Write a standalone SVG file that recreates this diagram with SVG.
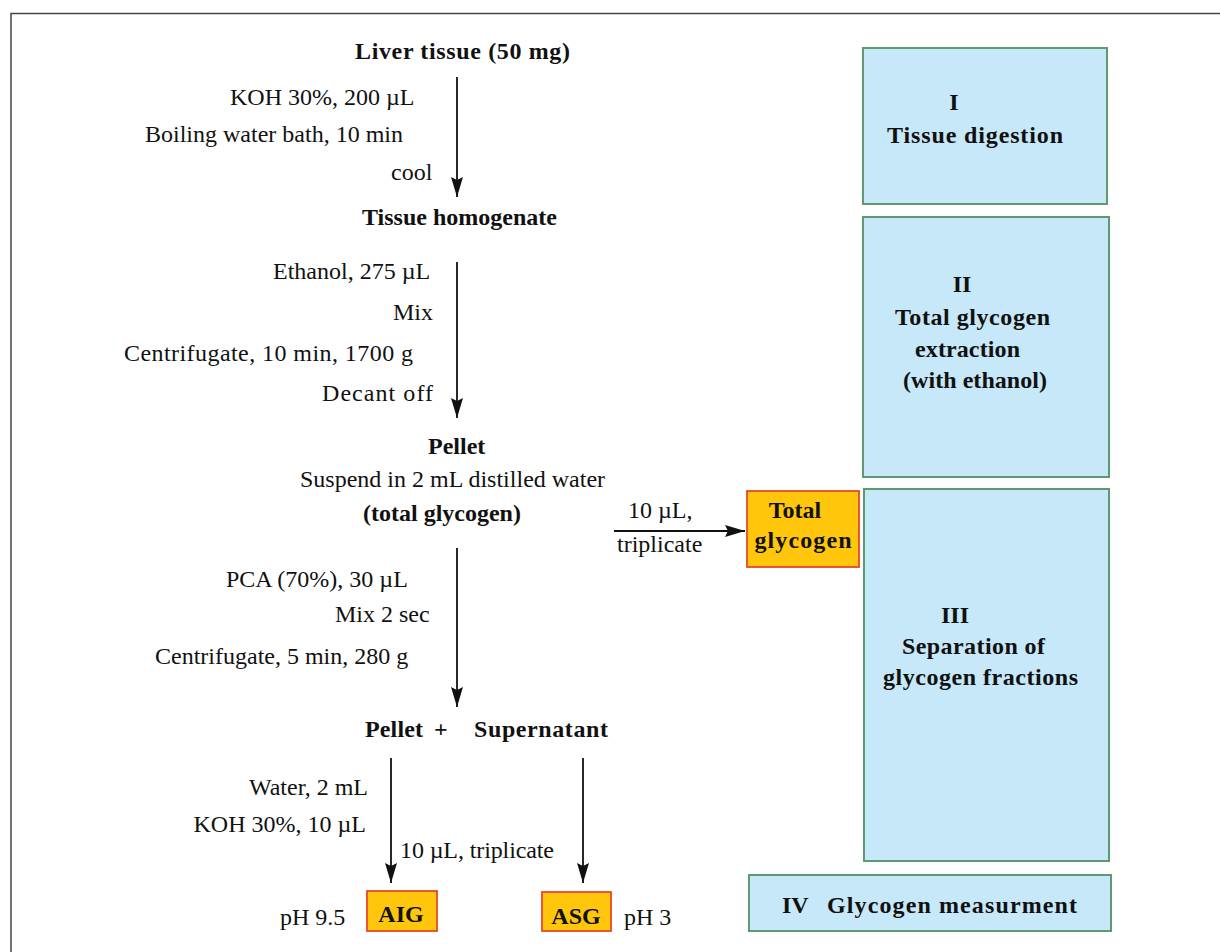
<svg xmlns="http://www.w3.org/2000/svg" width="1220" height="952" viewBox="0 0 1220 952">
<style>
text{font-family:"Liberation Serif","Times New Roman",serif;font-size:24px;fill:#111}
.b{font-weight:bold}
.stage{fill:#c6e8f8;stroke:#5e9a70;stroke-width:2}
.res{fill:#ffc60b;stroke:#e8482a;stroke-width:1.8}
.ln{stroke:#111;stroke-width:1.8;fill:none;marker-end:url(#ah)}
</style>
<defs>
<marker id="ah" markerUnits="userSpaceOnUse" markerWidth="22" markerHeight="14" refX="20" refY="7" orient="auto">
<path d="M0,1 L20,7 L0,13 L3,7 z" fill="#111"/>
</marker>
</defs>
<rect x="0" y="0" width="1220" height="952" fill="#fff"/>
<rect x="11" y="13.5" width="1230" height="960" fill="none" stroke="#444" stroke-width="1.5"/>

<g id="connectors">
<line class="ln" x1="457" y1="77" x2="457" y2="197"/>
<line class="ln" x1="457" y1="262" x2="457" y2="418"/>
<line class="ln" x1="457" y1="548" x2="457" y2="707"/>
<line class="ln" x1="391" y1="758" x2="391" y2="883"/>
<line class="ln" x1="583" y1="758" x2="583" y2="883"/>
<line class="ln" x1="614" y1="531" x2="745" y2="531"/>
</g>

<g id="liver"><text class="b" x="355" y="59" textLength="215">Liver tissue (50 mg)</text></g>
<g id="step1-labels">
<text x="230" y="105">KOH 30%, 200 µL</text>
<text x="145" y="142">Boiling water bath, 10 min</text>
<text x="391" y="180">cool</text>
</g>
<g id="homogenate"><text class="b" x="362" y="225">Tissue homogenate</text></g>
<g id="step2-labels">
<text x="273" y="279">Ethanol, 275 µL</text>
<text x="393" y="320">Mix</text>
<text x="124" y="361" textLength="289">Centrifugate, 10 min, 1700 g</text>
<text x="322" y="401" textLength="111">Decant off</text>
</g>
<g id="pellet1">
<text class="b" x="428" y="454">Pellet</text>
<text x="300" y="487">Suspend in 2 mL distilled water</text>
<text class="b" x="363" y="521">(total glycogen)</text>
</g>
<g id="arrow-label-total">
<text x="628" y="518">10 µL,</text>
<text x="617" y="552">triplicate</text>
</g>
<g id="total-glycogen">
<rect class="res" x="747" y="491" width="112" height="76"/>
<text class="b" x="795" y="518" text-anchor="middle">Total</text>
<text class="b" x="803" y="548" text-anchor="middle" textLength="97">glycogen</text>
</g>
<g id="step3-labels">
<text x="226" y="587">PCA (70%), 30 µL</text>
<text x="335" y="622">Mix 2 sec</text>
<text x="155" y="664">Centrifugate, 5 min, 280 g</text>
</g>
<g id="pellet-supernatant">
<text class="b" x="365" y="737" textLength="58">Pellet</text>
<text class="b" x="434" y="737">+</text>
<text class="b" x="474" y="737" textLength="134">Supernatant</text>
</g>
<g id="step4-labels">
<text x="368" y="795" text-anchor="end">Water, 2 mL</text>
<text x="366" y="832" text-anchor="end">KOH 30%, 10 µL</text>
<text x="400" y="858" textLength="154">10 µL, triplicate</text>
</g>
<g id="aig">
<text x="280" y="925">pH 9.5</text>
<rect class="res" x="367" y="891" width="70" height="40"/>
<text class="b" x="401" y="922" text-anchor="middle">AIG</text>
</g>
<g id="asg">
<rect class="res" x="542" y="892" width="69" height="39"/>
<text class="b" x="576" y="924" text-anchor="middle">ASG</text>
<text x="624" y="925">pH 3</text>
</g>

<g id="stage1">
<rect class="stage" x="863" y="48" width="244" height="156"/>
<text class="b" x="954" y="110" text-anchor="middle">I</text>
<text class="b" x="887" y="143" textLength="176">Tissue digestion</text>
</g>
<g id="stage2">
<rect class="stage" x="863" y="217" width="246" height="260"/>
<text class="b" x="962" y="292" text-anchor="middle">II</text>
<text class="b" x="895" y="325" textLength="155">Total glycogen</text>
<text class="b" x="915" y="357" textLength="105">extraction</text>
<text class="b" x="903" y="388" textLength="144">(with ethanol)</text>
</g>
<g id="stage3">
<rect class="stage" x="864" y="489" width="245" height="372"/>
<text class="b" x="955" y="623" text-anchor="middle">III</text>
<text class="b" x="902" y="654" textLength="143">Separation of</text>
<text class="b" x="883" y="685" textLength="195">glycogen fractions</text>
</g>
<g id="stage4">
<rect class="stage" x="749" y="875" width="362" height="56"/>
<text class="b" x="782" y="913">IV</text>
<text class="b" x="827" y="913" textLength="250">Glycogen measurment</text>
</g>
</svg>
